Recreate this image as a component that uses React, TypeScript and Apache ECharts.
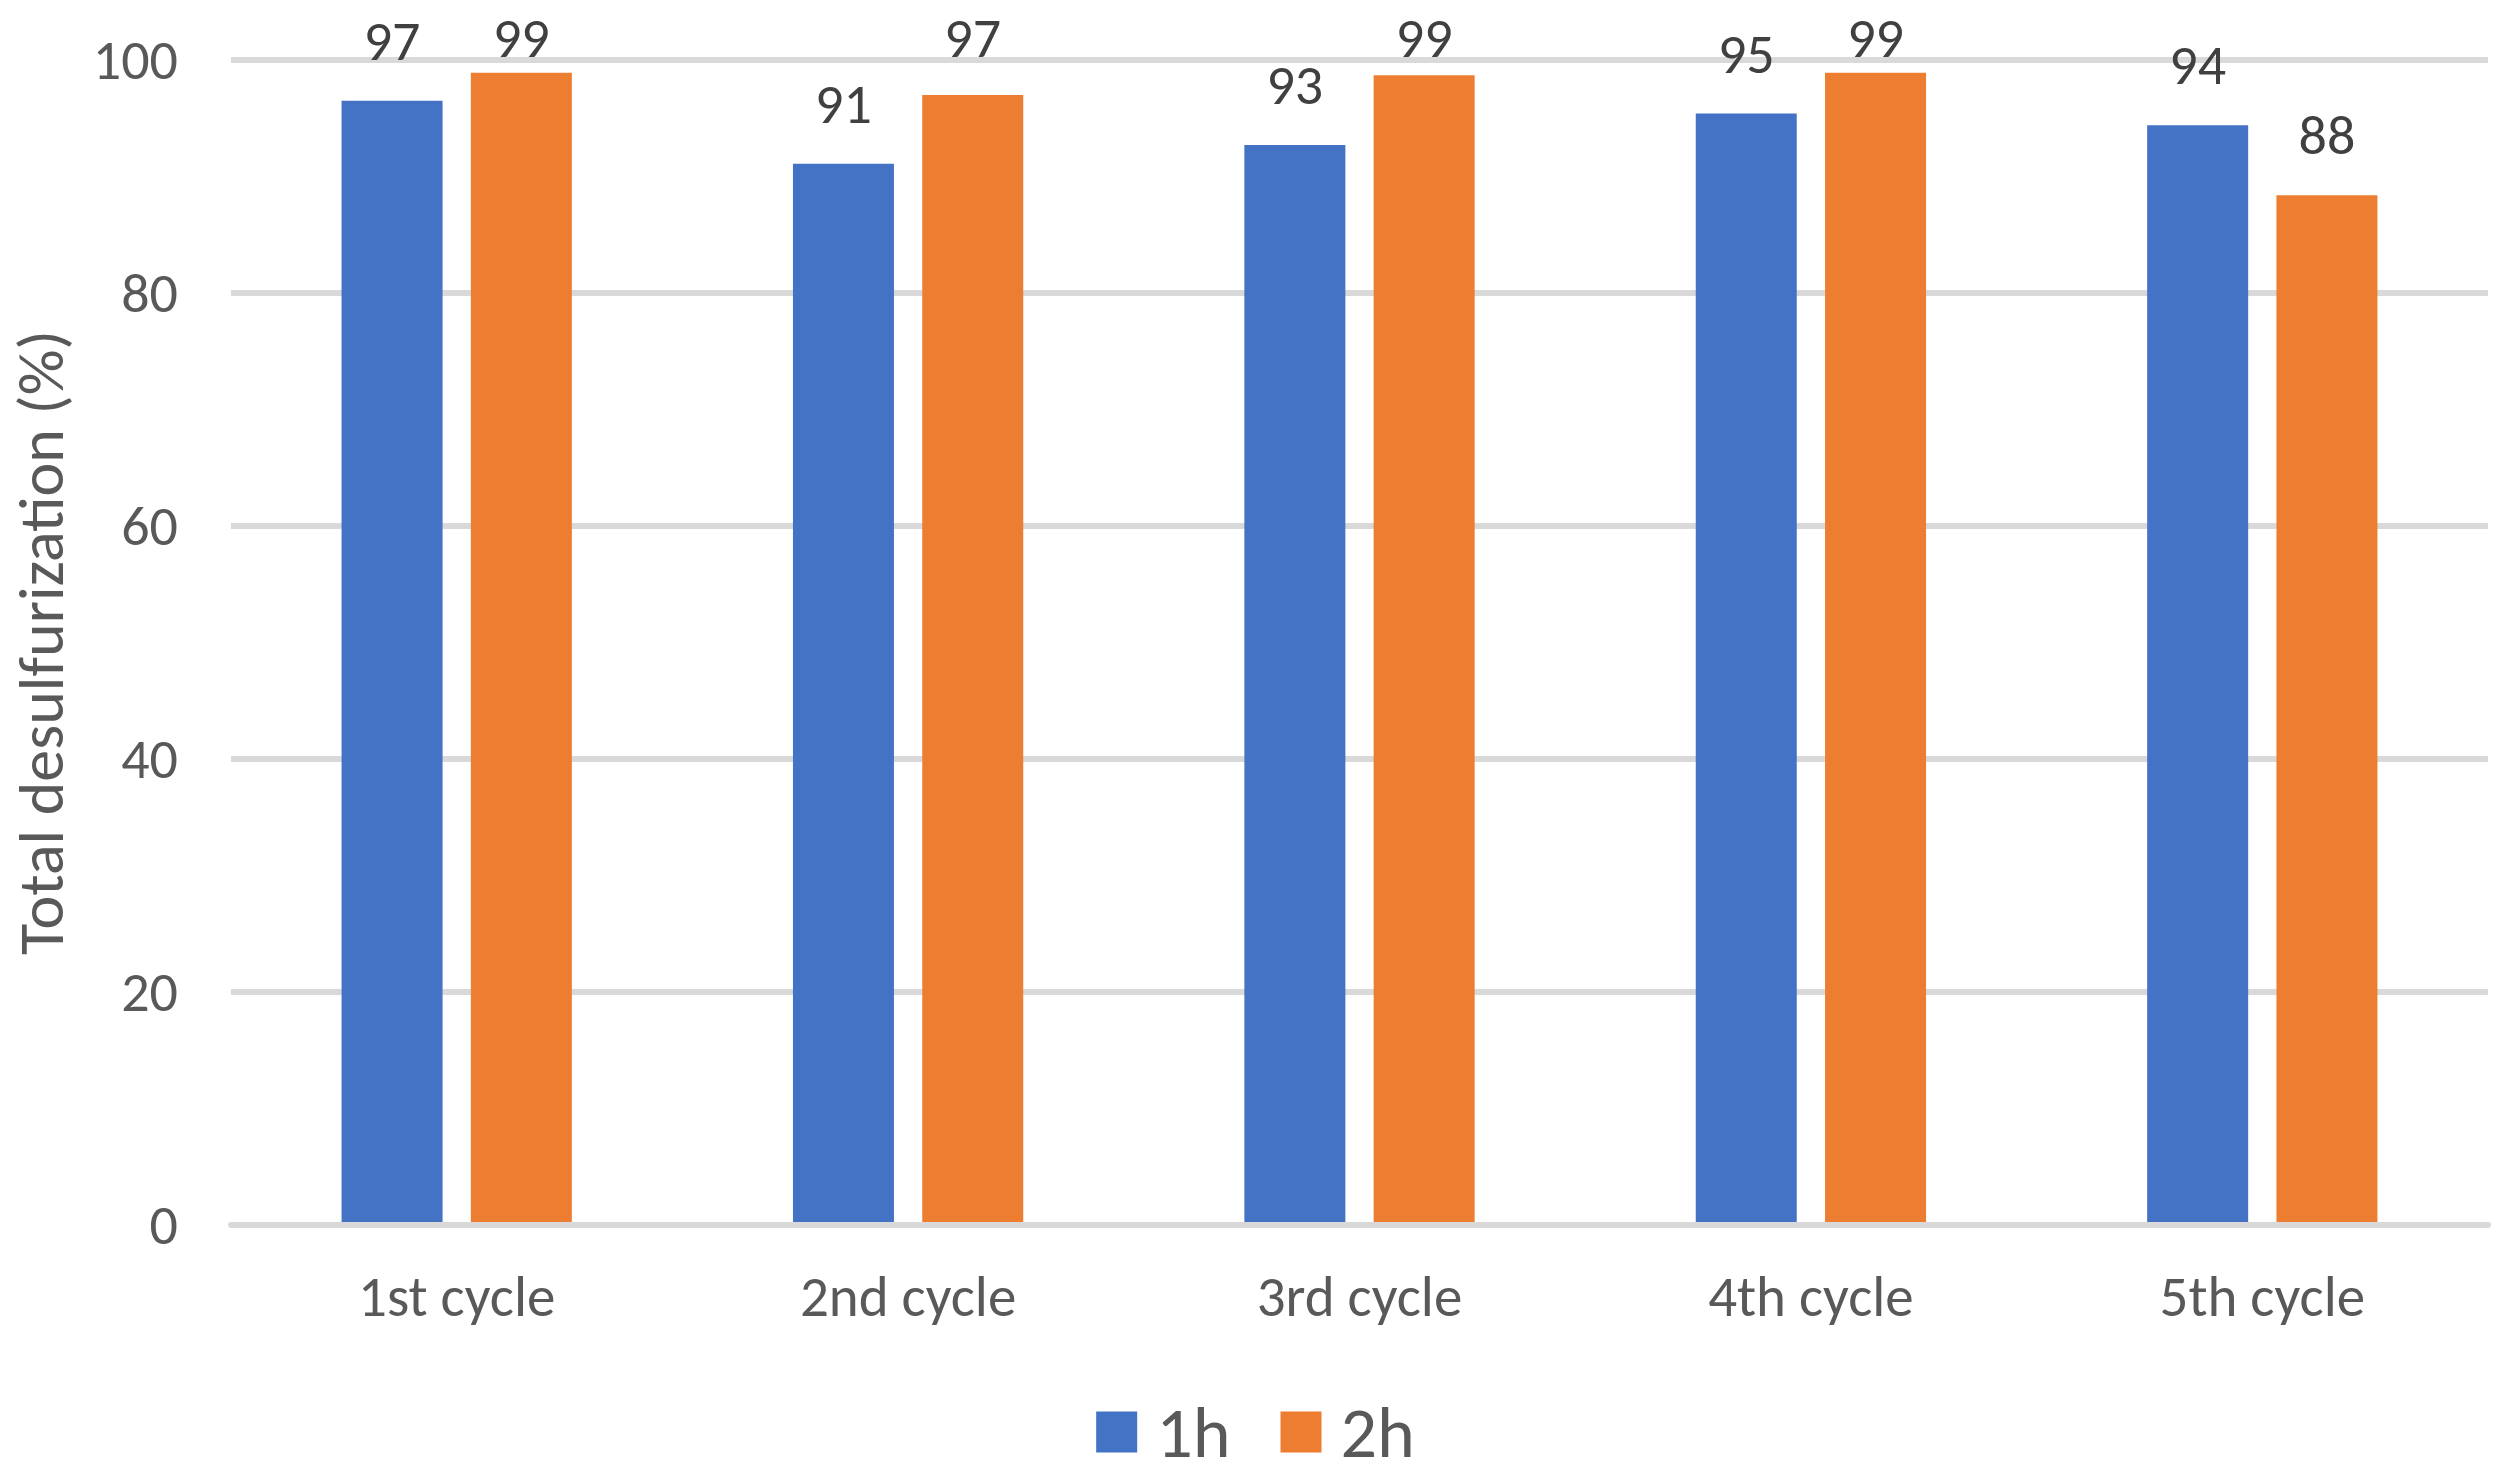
import React, { useEffect, useRef } from "react";
import * as echarts from "echarts";

const categories = ["1st cycle", "2nd cycle", "3rd cycle", "4th cycle", "5th cycle"];
const series1h = [96.5, 91.1, 92.7, 95.4, 94.4];
const series2h = [98.9, 97.0, 98.7, 98.9, 88.4];
const seriesNames = ["1h", "2h"];
const yMin = 0;
const yMax = 100;
const yInterval = 20;

const FONT = "Carlito, Calibri, Lato, sans-serif";
const BLUE = "#4472C4";
const ORANGE = "#ED7D31";
const GRID = "#D9D9D9";
const TEXT = "#595959";
const LABEL = "#404040";
const LABEL_MIN_CENTER = 38;

export default function App() {
  const ref = useRef<HTMLDivElement>(null);

  useEffect(() => {
    if (!ref.current) return;
    const chart = echarts.init(ref.current, undefined, { renderer: "svg" });
    const labelCfg = {
      show: true,
      position: "top",
      distance: 32,
      color: LABEL,
      fontSize: 56,
      fontFamily: FONT,
      formatter: (p: any) => String(Math.round(p.value)),
    };
    const labelLayout = (params: any) => {
      const r = params.labelRect;
      if (!r) return {};
      const c = r.y + r.height / 2;
      return c < LABEL_MIN_CENTER ? { dy: LABEL_MIN_CENTER - c } : {};
    };
    chart.setOption({
      animation: false,
      backgroundColor: "#ffffff",
      textStyle: { fontFamily: FONT },
      grid: { left: 231, right: 23, top: 60, bottom: 257 },
      legend: {
        data: seriesNames,
        icon: "rect",
        itemWidth: 41,
        itemHeight: 41,
        itemGap: 50,
        left: "center",
        top: 1396,
        padding: 0,
        textStyle: {
          fontSize: 72,
          color: TEXT,
          fontFamily: FONT,
          padding: [0, 0, 0, 14],
        },
      },
      xAxis: {
        type: "category",
        data: categories,
        z: 3,
        axisTick: { show: false },
        axisLine: { show: true, lineStyle: { color: GRID, width: 6 } },
        axisLabel: { color: TEXT, fontSize: 57, fontFamily: FONT, margin: 43 },
      },
      yAxis: {
        type: "value",
        min: yMin,
        max: yMax,
        interval: yInterval,
        name: "Total desulfurization (%)",
        nameLocation: "middle",
        nameRotate: 90,
        nameGap: 158,
        nameTextStyle: { color: TEXT, fontSize: 64, fontFamily: FONT },
        axisLine: { show: false },
        axisTick: { show: false },
        axisLabel: { color: TEXT, fontSize: 56, fontFamily: FONT, margin: 53 },
        splitLine: { show: true, lineStyle: { color: GRID, width: 6 } },
      },
      series: [
        {
          name: seriesNames[0],
          type: "bar",
          data: series1h,
          barWidth: 101,
          barGap: "28%",
          itemStyle: { color: BLUE },
          label: labelCfg,
          labelLayout,
        },
        {
          name: seriesNames[1],
          type: "bar",
          data: series2h,
          barWidth: 101,
          barGap: "28%",
          itemStyle: { color: ORANGE },
          label: labelCfg,
          labelLayout,
        },
      ],
    });
    return () => chart.dispose();
  }, []);

  return (
    <div
      ref={ref}
      style={{ position: "absolute", left: 0, top: 0, width: 2511, height: 1482, background: "#fff" }}
    />
  );
}
